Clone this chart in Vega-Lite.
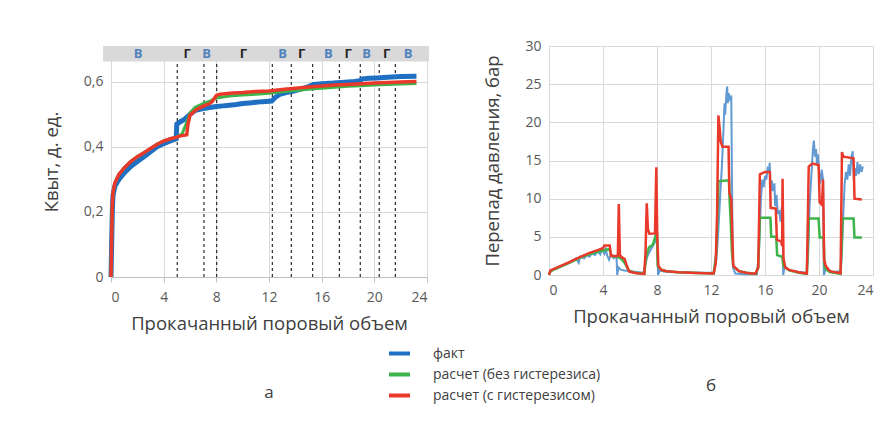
{
  "$schema": "https://vega.github.io/schema/vega-lite/v6.json",
  "background": "white",
  "padding": {"left": 42, "top": 39, "right": 5, "bottom": 5},
  "config": {
    "font": "Open Sans",
    "view": {"stroke": null},
    "axis": {"gridColor": "#d9d9d9", "domain": false, "ticks": false, "labelColor": "#595959", "titleColor": "#404040", "labelFontSize": 14, "titleFontSize": 18.5, "titleFontWeight": "normal", "labelPadding": 8},
    "concat": {"spacing": 54},
    "legend": {"orient": "none", "legendX": 276, "legendY": 295, "title": null, "symbolType": "stroke", "symbolStrokeWidth": 4, "symbolSize": 441, "symbolOpacity": 1, "labelFontSize": 14, "labelColor": "#404040", "labelLimit": 0, "rowPadding": 0, "labelOffset": 21}
  },
  "datasets": {
    "kv": [
      {"x":0,"y":0,"s":"факт"},{"x":0.05,"y":0.1,"s":"факт"},{"x":0.1,"y":0.2,"s":"факт"},{"x":0.15,"y":0.25,"s":"факт"},{"x":0.3,"y":0.28,"s":"факт"},{"x":0.6,"y":0.3,"s":"факт"},{"x":1.0,"y":0.32,"s":"факт"},{"x":1.5,"y":0.34,"s":"факт"},{"x":2.0,"y":0.355,"s":"факт"},{"x":2.5,"y":0.37,"s":"факт"},{"x":3.0,"y":0.385,"s":"факт"},{"x":3.5,"y":0.4,"s":"факт"},{"x":4.0,"y":0.41,"s":"факт"},{"x":4.5,"y":0.418,"s":"факт"},{"x":4.95,"y":0.425,"s":"факт"},{"x":5.0,"y":0.47,"s":"факт"},{"x":5.3,"y":0.478,"s":"факт"},{"x":5.6,"y":0.485,"s":"факт"},{"x":6.0,"y":0.5,"s":"факт"},{"x":6.4,"y":0.512,"s":"факт"},{"x":7.0,"y":0.518,"s":"факт"},{"x":7.5,"y":0.521,"s":"факт"},{"x":8.0,"y":0.524,"s":"факт"},{"x":8.5,"y":0.526,"s":"факт"},{"x":9.0,"y":0.528,"s":"факт"},{"x":9.5,"y":0.53,"s":"факт"},{"x":10.0,"y":0.533,"s":"факт"},{"x":10.5,"y":0.535,"s":"факт"},{"x":11.0,"y":0.537,"s":"факт"},{"x":11.5,"y":0.539,"s":"факт"},{"x":12.2,"y":0.541,"s":"факт"},{"x":12.5,"y":0.553,"s":"факт"},{"x":12.8,"y":0.561,"s":"факт"},{"x":13.3,"y":0.567,"s":"факт"},{"x":13.8,"y":0.571,"s":"факт"},{"x":14.5,"y":0.578,"s":"факт"},{"x":15.0,"y":0.585,"s":"факт"},{"x":15.4,"y":0.592,"s":"факт"},{"x":16.0,"y":0.594,"s":"факт"},{"x":16.9,"y":0.596,"s":"факт"},{"x":17.5,"y":0.598,"s":"факт"},{"x":18.5,"y":0.601,"s":"факт"},{"x":18.9,"y":0.603,"s":"факт"},{"x":19.1,"y":0.609,"s":"факт"},{"x":19.6,"y":0.611,"s":"факт"},{"x":20.2,"y":0.612,"s":"факт"},{"x":21.0,"y":0.614,"s":"факт"},{"x":22.0,"y":0.616,"s":"факт"},{"x":23.2,"y":0.617,"s":"факт"},
      {"x":0,"y":0,"s":"расчет (без гистерезиса)"},{"x":0.05,"y":0.12,"s":"расчет (без гистерезиса)"},{"x":0.1,"y":0.22,"s":"расчет (без гистерезиса)"},{"x":0.15,"y":0.26,"s":"расчет (без гистерезиса)"},{"x":0.3,"y":0.29,"s":"расчет (без гистерезиса)"},{"x":0.6,"y":0.315,"s":"расчет (без гистерезиса)"},{"x":1.0,"y":0.335,"s":"расчет (без гистерезиса)"},{"x":1.5,"y":0.355,"s":"расчет (без гистерезиса)"},{"x":2.0,"y":0.37,"s":"расчет (без гистерезиса)"},{"x":2.5,"y":0.382,"s":"расчет (без гистерезиса)"},{"x":3.0,"y":0.395,"s":"расчет (без гистерезиса)"},{"x":3.5,"y":0.408,"s":"расчет (без гистерезиса)"},{"x":4.0,"y":0.418,"s":"расчет (без гистерезиса)"},{"x":4.5,"y":0.425,"s":"расчет (без гистерезиса)"},{"x":5.0,"y":0.43,"s":"расчет (без гистерезиса)"},{"x":5.4,"y":0.44,"s":"расчет (без гистерезиса)"},{"x":5.7,"y":0.47,"s":"расчет (без гистерезиса)"},{"x":6.0,"y":0.505,"s":"расчет (без гистерезиса)"},{"x":6.4,"y":0.522,"s":"расчет (без гистерезиса)"},{"x":7.0,"y":0.533,"s":"расчет (без гистерезиса)"},{"x":7.6,"y":0.542,"s":"расчет (без гистерезиса)"},{"x":8.0,"y":0.55,"s":"расчет (без гистерезиса)"},{"x":8.5,"y":0.553,"s":"расчет (без гистерезиса)"},{"x":9.0,"y":0.556,"s":"расчет (без гистерезиса)"},{"x":10.0,"y":0.559,"s":"расчет (без гистерезиса)"},{"x":11.0,"y":0.562,"s":"расчет (без гистерезиса)"},{"x":12.0,"y":0.565,"s":"расчет (без гистерезиса)"},{"x":13.0,"y":0.569,"s":"расчет (без гистерезиса)"},{"x":14.0,"y":0.573,"s":"расчет (без гистерезиса)"},{"x":15.0,"y":0.577,"s":"расчет (без гистерезиса)"},{"x":16.0,"y":0.58,"s":"расчет (без гистерезиса)"},{"x":17.0,"y":0.583,"s":"расчет (без гистерезиса)"},{"x":18.0,"y":0.586,"s":"расчет (без гистерезиса)"},{"x":19.0,"y":0.588,"s":"расчет (без гистерезиса)"},{"x":20.0,"y":0.59,"s":"расчет (без гистерезиса)"},{"x":21.0,"y":0.592,"s":"расчет (без гистерезиса)"},{"x":22.0,"y":0.593,"s":"расчет (без гистерезиса)"},{"x":23.2,"y":0.595,"s":"расчет (без гистерезиса)"},
      {"x":0,"y":0,"s":"расчет (с гистерезисом)"},{"x":0.05,"y":0.12,"s":"расчет (с гистерезисом)"},{"x":0.1,"y":0.22,"s":"расчет (с гистерезисом)"},{"x":0.15,"y":0.26,"s":"расчет (с гистерезисом)"},{"x":0.3,"y":0.29,"s":"расчет (с гистерезисом)"},{"x":0.6,"y":0.315,"s":"расчет (с гистерезисом)"},{"x":1.0,"y":0.335,"s":"расчет (с гистерезисом)"},{"x":1.5,"y":0.355,"s":"расчет (с гистерезисом)"},{"x":2.0,"y":0.37,"s":"расчет (с гистерезисом)"},{"x":2.5,"y":0.382,"s":"расчет (с гистерезисом)"},{"x":3.0,"y":0.395,"s":"расчет (с гистерезисом)"},{"x":3.5,"y":0.408,"s":"расчет (с гистерезисом)"},{"x":4.0,"y":0.418,"s":"расчет (с гистерезисом)"},{"x":4.5,"y":0.425,"s":"расчет (с гистерезисом)"},{"x":5.0,"y":0.43,"s":"расчет (с гистерезисом)"},{"x":5.2,"y":0.433,"s":"расчет (с гистерезисом)"},{"x":5.75,"y":0.437,"s":"расчет (с гистерезисом)"},{"x":5.85,"y":0.47,"s":"расчет (с гистерезисом)"},{"x":6.0,"y":0.497,"s":"расчет (с гистерезисом)"},{"x":6.5,"y":0.515,"s":"расчет (с гистерезисом)"},{"x":7.0,"y":0.525,"s":"расчет (с гистерезисом)"},{"x":7.5,"y":0.533,"s":"расчет (с гистерезисом)"},{"x":7.7,"y":0.54,"s":"расчет (с гистерезисом)"},{"x":8.0,"y":0.558,"s":"расчет (с гистерезисом)"},{"x":8.3,"y":0.562,"s":"расчет (с гистерезисом)"},{"x":9.0,"y":0.565,"s":"расчет (с гистерезисом)"},{"x":10.0,"y":0.567,"s":"расчет (с гистерезисом)"},{"x":11.0,"y":0.57,"s":"расчет (с гистерезисом)"},{"x":12.0,"y":0.572,"s":"расчет (с гистерезисом)"},{"x":13.0,"y":0.576,"s":"расчет (с гистерезисом)"},{"x":14.0,"y":0.58,"s":"расчет (с гистерезисом)"},{"x":15.0,"y":0.584,"s":"расчет (с гистерезисом)"},{"x":16.0,"y":0.587,"s":"расчет (с гистерезисом)"},{"x":17.0,"y":0.59,"s":"расчет (с гистерезисом)"},{"x":18.0,"y":0.592,"s":"расчет (с гистерезисом)"},{"x":19.0,"y":0.594,"s":"расчет (с гистерезисом)"},{"x":20.0,"y":0.596,"s":"расчет (с гистерезисом)"},{"x":21.0,"y":0.598,"s":"расчет (с гистерезисом)"},{"x":22.0,"y":0.599,"s":"расчет (с гистерезисом)"},{"x":23.2,"y":0.601,"s":"расчет (с гистерезисом)"}
    ],
    "dp": [
      {"x":0,"y":0.2,"s":"факт"},{"x":0.3,"y":0.7,"s":"факт"},{"x":0.6,"y":1.0,"s":"факт"},{"x":0.9,"y":1.2,"s":"факт"},{"x":1.2,"y":1.4,"s":"факт"},{"x":1.5,"y":1.6,"s":"факт"},{"x":1.8,"y":1.9,"s":"факт"},{"x":2.0,"y":2.2,"s":"факт"},{"x":2.2,"y":1.6,"s":"факт"},{"x":2.3,"y":2.4,"s":"факт"},{"x":2.6,"y":2.2,"s":"факт"},{"x":2.8,"y":2.6,"s":"факт"},{"x":3.0,"y":2.4,"s":"факт"},{"x":3.2,"y":2.9,"s":"факт"},{"x":3.4,"y":2.6,"s":"факт"},{"x":3.6,"y":3.1,"s":"факт"},{"x":3.8,"y":2.7,"s":"факт"},{"x":3.9,"y":3.4,"s":"факт"},{"x":4.1,"y":2.8,"s":"факт"},{"x":4.2,"y":3.6,"s":"факт"},{"x":4.3,"y":2.6,"s":"факт"},{"x":4.45,"y":2.0,"s":"факт"},{"x":4.6,"y":2.8,"s":"факт"},{"x":4.8,"y":2.2,"s":"факт"},{"x":5.0,"y":2.5,"s":"факт"},{"x":5.05,"y":0,"s":"факт"},{"x":5.15,"y":1.0,"s":"факт"},{"x":5.3,"y":0.7,"s":"факт"},{"x":5.6,"y":0.6,"s":"факт"},{"x":6.0,"y":0.5,"s":"факт"},{"x":6.5,"y":0.4,"s":"факт"},{"x":7.0,"y":0.3,"s":"факт"},{"x":7.15,"y":1.5,"s":"факт"},{"x":7.3,"y":2.5,"s":"факт"},{"x":7.5,"y":3.2,"s":"факт"},{"x":7.7,"y":3.8,"s":"факт"},{"x":7.9,"y":4.5,"s":"факт"},{"x":8.0,"y":5.2,"s":"факт"},{"x":8.08,"y":0,"s":"факт"},{"x":8.2,"y":0.6,"s":"факт"},{"x":8.5,"y":0.45,"s":"факт"},{"x":9.5,"y":0.35,"s":"факт"},{"x":11.0,"y":0.3,"s":"факт"},{"x":12.2,"y":0.3,"s":"факт"},{"x":12.4,"y":2,"s":"факт"},{"x":12.55,"y":6,"s":"факт"},{"x":12.7,"y":11,"s":"факт"},{"x":12.8,"y":14,"s":"факт"},{"x":12.9,"y":18,"s":"факт"},{"x":13.0,"y":22.5,"s":"факт"},{"x":13.05,"y":21,"s":"факт"},{"x":13.15,"y":24,"s":"факт"},{"x":13.2,"y":24.7,"s":"факт"},{"x":13.25,"y":22.5,"s":"факт"},{"x":13.3,"y":23.8,"s":"факт"},{"x":13.4,"y":23.1,"s":"факт"},{"x":13.5,"y":23.5,"s":"факт"},{"x":13.55,"y":13,"s":"факт"},{"x":13.62,"y":1.0,"s":"факт"},{"x":13.8,"y":0.2,"s":"факт"},{"x":14.5,"y":0.1,"s":"факт"},{"x":15.4,"y":0.1,"s":"факт"},{"x":15.55,"y":3,"s":"факт"},{"x":15.7,"y":10,"s":"факт"},{"x":15.8,"y":12.5,"s":"факт"},{"x":15.9,"y":11.5,"s":"факт"},{"x":16.0,"y":13,"s":"факт"},{"x":16.1,"y":12.5,"s":"факт"},{"x":16.2,"y":14,"s":"факт"},{"x":16.3,"y":13.8,"s":"факт"},{"x":16.35,"y":14.7,"s":"факт"},{"x":16.42,"y":11,"s":"факт"},{"x":16.5,"y":12.4,"s":"факт"},{"x":16.6,"y":11,"s":"факт"},{"x":16.7,"y":12,"s":"факт"},{"x":16.75,"y":9,"s":"факт"},{"x":16.85,"y":10.5,"s":"факт"},{"x":16.95,"y":8,"s":"факт"},{"x":17.05,"y":8.5,"s":"факт"},{"x":17.15,"y":7,"s":"факт"},{"x":17.25,"y":9,"s":"факт"},{"x":17.3,"y":7.5,"s":"факт"},{"x":17.35,"y":0,"s":"факт"},{"x":17.45,"y":1.2,"s":"факт"},{"x":17.8,"y":0.6,"s":"факт"},{"x":18.5,"y":0.4,"s":"факт"},{"x":19.1,"y":0.3,"s":"факт"},{"x":19.2,"y":3,"s":"факт"},{"x":19.3,"y":9,"s":"факт"},{"x":19.4,"y":12,"s":"факт"},{"x":19.5,"y":15,"s":"факт"},{"x":19.55,"y":16.5,"s":"факт"},{"x":19.62,"y":17.6,"s":"факт"},{"x":19.7,"y":15.5,"s":"факт"},{"x":19.78,"y":16.5,"s":"факт"},{"x":19.85,"y":14.5,"s":"факт"},{"x":19.92,"y":15.8,"s":"факт"},{"x":20.0,"y":13.5,"s":"факт"},{"x":20.1,"y":12,"s":"факт"},{"x":20.2,"y":13.8,"s":"факт"},{"x":20.3,"y":12.5,"s":"факт"},{"x":20.36,"y":0,"s":"факт"},{"x":20.5,"y":0.8,"s":"факт"},{"x":21.0,"y":0.4,"s":"факт"},{"x":21.6,"y":0.5,"s":"факт"},{"x":21.7,"y":3,"s":"факт"},{"x":21.8,"y":8,"s":"факт"},{"x":21.9,"y":12,"s":"факт"},{"x":22.0,"y":13.5,"s":"факт"},{"x":22.1,"y":12.5,"s":"факт"},{"x":22.2,"y":14.5,"s":"факт"},{"x":22.3,"y":13,"s":"факт"},{"x":22.4,"y":15.5,"s":"факт"},{"x":22.5,"y":16.2,"s":"факт"},{"x":22.58,"y":12.5,"s":"факт"},{"x":22.65,"y":14,"s":"факт"},{"x":22.75,"y":13,"s":"факт"},{"x":22.85,"y":14.8,"s":"факт"},{"x":22.95,"y":13.2,"s":"факт"},{"x":23.05,"y":14.5,"s":"факт"},{"x":23.15,"y":13.5,"s":"факт"},{"x":23.25,"y":14.2,"s":"факт"},
      {"x":0,"y":0,"s":"расчет (без гистерезиса)"},{"x":0.1,"y":0.5,"s":"расчет (без гистерезиса)"},{"x":0.5,"y":0.8,"s":"расчет (без гистерезиса)"},{"x":1.0,"y":1.2,"s":"расчет (без гистерезиса)"},{"x":1.5,"y":1.6,"s":"расчет (без гистерезиса)"},{"x":2.0,"y":2.0,"s":"расчет (без гистерезиса)"},{"x":2.5,"y":2.4,"s":"расчет (без гистерезиса)"},{"x":3.0,"y":2.7,"s":"расчет (без гистерезиса)"},{"x":3.5,"y":3.0,"s":"расчет (без гистерезиса)"},{"x":4.0,"y":3.2,"s":"расчет (без гистерезиса)"},{"x":4.5,"y":3.4,"s":"расчет (без гистерезиса)"},{"x":4.6,"y":2.5,"s":"расчет (без гистерезиса)"},{"x":5.0,"y":2.4,"s":"расчет (без гистерезиса)"},{"x":5.3,"y":2.2,"s":"расчет (без гистерезиса)"},{"x":5.6,"y":1.6,"s":"расчет (без гистерезиса)"},{"x":5.9,"y":0.6,"s":"расчет (без гистерезиса)"},{"x":6.3,"y":0.3,"s":"расчет (без гистерезиса)"},{"x":7.06,"y":0.15,"s":"расчет (без гистерезиса)"},{"x":7.2,"y":2.5,"s":"расчет (без гистерезиса)"},{"x":7.4,"y":3.6,"s":"расчет (без гистерезиса)"},{"x":7.7,"y":4.0,"s":"расчет (без гистерезиса)"},{"x":7.9,"y":5.2,"s":"расчет (без гистерезиса)"},{"x":8.0,"y":5.3,"s":"расчет (без гистерезиса)"},{"x":8.05,"y":1.2,"s":"расчет (без гистерезиса)"},{"x":8.3,"y":0.7,"s":"расчет (без гистерезиса)"},{"x":8.7,"y":0.5,"s":"расчет (без гистерезиса)"},{"x":9.6,"y":0.35,"s":"расчет (без гистерезиса)"},{"x":11.0,"y":0.25,"s":"расчет (без гистерезиса)"},{"x":12.2,"y":0.2,"s":"расчет (без гистерезиса)"},{"x":12.4,"y":3,"s":"расчет (без гистерезиса)"},{"x":12.55,"y":12.3,"s":"расчет (без гистерезиса)"},{"x":13.33,"y":12.4,"s":"расчет (без гистерезиса)"},{"x":13.38,"y":9.8,"s":"расчет (без гистерезиса)"},{"x":13.45,"y":7.4,"s":"расчет (без гистерезиса)"},{"x":13.55,"y":3,"s":"расчет (без гистерезиса)"},{"x":13.65,"y":1.2,"s":"расчет (без гистерезиса)"},{"x":14.07,"y":0.5,"s":"расчет (без гистерезиса)"},{"x":14.6,"y":0.3,"s":"расчет (без гистерезиса)"},{"x":15.3,"y":0.15,"s":"расчет (без гистерезиса)"},{"x":15.5,"y":1,"s":"расчет (без гистерезиса)"},{"x":15.62,"y":7.5,"s":"расчет (без гистерезиса)"},{"x":16.4,"y":7.5,"s":"расчет (без гистерезиса)"},{"x":16.46,"y":5.0,"s":"расчет (без гистерезиса)"},{"x":16.83,"y":5.0,"s":"расчет (без гистерезиса)"},{"x":16.9,"y":2.6,"s":"расчет (без гистерезиса)"},{"x":17.27,"y":2.4,"s":"расчет (без гистерезиса)"},{"x":17.37,"y":1.1,"s":"расчет (без гистерезиса)"},{"x":17.8,"y":0.6,"s":"расчет (без гистерезиса)"},{"x":18.5,"y":0.3,"s":"расчет (без гистерезиса)"},{"x":19.1,"y":0.15,"s":"расчет (без гистерезиса)"},{"x":19.24,"y":7.4,"s":"расчет (без гистерезиса)"},{"x":19.97,"y":7.4,"s":"расчет (без гистерезиса)"},{"x":20.05,"y":4.9,"s":"расчет (без гистерезиса)"},{"x":20.34,"y":4.9,"s":"расчет (без гистерезиса)"},{"x":20.42,"y":0.9,"s":"расчет (без гистерезиса)"},{"x":20.8,"y":0.4,"s":"расчет (без гистерезиса)"},{"x":21.6,"y":0.15,"s":"расчет (без гистерезиса)"},{"x":21.75,"y":7.4,"s":"расчет (без гистерезиса)"},{"x":22.56,"y":7.4,"s":"расчет (без гистерезиса)"},{"x":22.63,"y":4.9,"s":"расчет (без гистерезиса)"},{"x":23.17,"y":4.9,"s":"расчет (без гистерезиса)"},
      {"x":0,"y":0,"s":"расчет (с гистерезисом)"},{"x":0.1,"y":0.6,"s":"расчет (с гистерезисом)"},{"x":0.5,"y":0.9,"s":"расчет (с гистерезисом)"},{"x":1.0,"y":1.3,"s":"расчет (с гистерезисом)"},{"x":1.5,"y":1.7,"s":"расчет (с гистерезисом)"},{"x":2.0,"y":2.1,"s":"расчет (с гистерезисом)"},{"x":2.5,"y":2.5,"s":"расчет (с гистерезисом)"},{"x":3.0,"y":2.9,"s":"расчет (с гистерезисом)"},{"x":3.5,"y":3.2,"s":"расчет (с гистерезисом)"},{"x":4.0,"y":3.5,"s":"расчет (с гистерезисом)"},{"x":4.1,"y":3.85,"s":"расчет (с гистерезисом)"},{"x":4.5,"y":3.85,"s":"расчет (с гистерезисом)"},{"x":4.6,"y":2.5,"s":"расчет (с гистерезисом)"},{"x":5.1,"y":2.5,"s":"расчет (с гистерезисом)"},{"x":5.17,"y":9.3,"s":"расчет (с гистерезисом)"},{"x":5.25,"y":2.6,"s":"расчет (с гистерезисом)"},{"x":5.4,"y":2.3,"s":"расчет (с гистерезисом)"},{"x":5.6,"y":2.1,"s":"расчет (с гистерезисом)"},{"x":5.8,"y":1.0,"s":"расчет (с гистерезисом)"},{"x":5.95,"y":0.45,"s":"расчет (с гистерезисом)"},{"x":6.3,"y":0.3,"s":"расчет (с гистерезисом)"},{"x":6.7,"y":0.2,"s":"расчет (с гистерезисом)"},{"x":7.06,"y":0.15,"s":"расчет (с гистерезисом)"},{"x":7.15,"y":3,"s":"расчет (с гистерезисом)"},{"x":7.24,"y":9.4,"s":"расчет (с гистерезисом)"},{"x":7.33,"y":6.0,"s":"расчет (с гистерезисом)"},{"x":7.43,"y":5.4,"s":"расчет (с гистерезисом)"},{"x":7.85,"y":5.45,"s":"расчет (с гистерезисом)"},{"x":7.95,"y":14.1,"s":"расчет (с гистерезисом)"},{"x":8.02,"y":5.0,"s":"расчет (с гистерезисом)"},{"x":8.1,"y":1.2,"s":"расчет (с гистерезисом)"},{"x":8.3,"y":0.7,"s":"расчет (с гистерезисом)"},{"x":8.7,"y":0.5,"s":"расчет (с гистерезисом)"},{"x":9.6,"y":0.35,"s":"расчет (с гистерезисом)"},{"x":11.0,"y":0.25,"s":"расчет (с гистерезисом)"},{"x":12.2,"y":0.2,"s":"расчет (с гистерезисом)"},{"x":12.35,"y":1.5,"s":"расчет (с гистерезисом)"},{"x":12.45,"y":8,"s":"расчет (с гистерезисом)"},{"x":12.55,"y":20.9,"s":"расчет (с гистерезисом)"},{"x":12.65,"y":19,"s":"расчет (с гистерезисом)"},{"x":12.72,"y":17.5,"s":"расчет (с гистерезисом)"},{"x":12.85,"y":16.8,"s":"расчет (с гистерезисом)"},{"x":13.3,"y":16.8,"s":"расчет (с гистерезисом)"},{"x":13.36,"y":10.8,"s":"расчет (с гистерезисом)"},{"x":13.5,"y":9.9,"s":"расчет (с гистерезисом)"},{"x":13.58,"y":5,"s":"расчет (с гистерезисом)"},{"x":13.65,"y":1.2,"s":"расчет (с гистерезисом)"},{"x":14.07,"y":0.5,"s":"расчет (с гистерезисом)"},{"x":14.6,"y":0.3,"s":"расчет (с гистерезисом)"},{"x":15.05,"y":0.2,"s":"расчет (с гистерезисом)"},{"x":15.3,"y":0.2,"s":"расчет (с гистерезисом)"},{"x":15.5,"y":1,"s":"расчет (с гистерезисом)"},{"x":15.62,"y":13.2,"s":"расчет (с гистерезисом)"},{"x":16.0,"y":13.5,"s":"расчет (с гистерезисом)"},{"x":16.36,"y":13.5,"s":"расчет (с гистерезисом)"},{"x":16.42,"y":8.8,"s":"расчет (с гистерезисом)"},{"x":16.8,"y":8.7,"s":"расчет (с гистерезисом)"},{"x":16.88,"y":4.6,"s":"расчет (с гистерезисом)"},{"x":17.2,"y":4.4,"s":"расчет (с гистерезисом)"},{"x":17.27,"y":3.8,"s":"расчет (с гистерезисом)"},{"x":17.3,"y":12.6,"s":"расчет (с гистерезисом)"},{"x":17.37,"y":2.2,"s":"расчет (с гистерезисом)"},{"x":17.5,"y":1.0,"s":"расчет (с гистерезисом)"},{"x":17.8,"y":0.66,"s":"расчет (с гистерезисом)"},{"x":18.5,"y":0.35,"s":"расчет (с гистерезисом)"},{"x":19.1,"y":0.2,"s":"расчет (с гистерезисом)"},{"x":19.18,"y":8,"s":"расчет (с гистерезисом)"},{"x":19.24,"y":14.2,"s":"расчет (с гистерезисом)"},{"x":19.5,"y":14.6,"s":"расчет (с гистерезисом)"},{"x":19.97,"y":14.4,"s":"расчет (с гистерезисом)"},{"x":20.05,"y":9.5,"s":"расчет (с гистерезисом)"},{"x":20.22,"y":9.2,"s":"расчет (с гистерезисом)"},{"x":20.3,"y":12.5,"s":"расчет (с гистерезисом)"},{"x":20.38,"y":2,"s":"расчет (с гистерезисом)"},{"x":20.5,"y":1.2,"s":"расчет (с гистерезисом)"},{"x":20.8,"y":0.5,"s":"расчет (с гистерезисом)"},{"x":21.6,"y":0.22,"s":"расчет (с гистерезисом)"},{"x":21.7,"y":16.1,"s":"расчет (с гистерезисом)"},{"x":21.8,"y":15.5,"s":"расчет (с гистерезисом)"},{"x":22.56,"y":15.3,"s":"расчет (с гистерезисом)"},{"x":22.63,"y":10.0,"s":"расчет (с гистерезисом)"},{"x":23.17,"y":9.9,"s":"расчет (с гистерезисом)"}
    ],
    "dashes": [{"x":5.03,"y":0,"y2":0.662},{"x":7.06,"y":0,"y2":0.662},{"x":8.03,"y":0,"y2":0.662},{"x":12.25,"y":0,"y2":0.662},{"x":13.69,"y":0,"y2":0.662},{"x":15.32,"y":0,"y2":0.662},{"x":17.34,"y":0,"y2":0.662},{"x":18.93,"y":0,"y2":0.662},{"x":20.37,"y":0,"y2":0.662},{"x":21.59,"y":0,"y2":0.662}],
    "band": [{"x":-0.6,"x2":24.15,"y":0.662,"y2":0.71}],
    "phase": [{"x":2.06,"y":0.686,"t":"В"},{"x":5.79,"y":0.686,"t":"Г"},{"x":7.26,"y":0.686,"t":"В"},{"x":10.05,"y":0.686,"t":"Г"},{"x":13.04,"y":0.686,"t":"В"},{"x":14.48,"y":0.686,"t":"Г"},{"x":16.5,"y":0.686,"t":"В"},{"x":18.02,"y":0.686,"t":"Г"},{"x":19.42,"y":0.686,"t":"В"},{"x":20.93,"y":0.686,"t":"Г"},{"x":22.57,"y":0.686,"t":"В"}]
  },
  "hconcat": [
    {
      "width": 316,
      "height": 231,
      "title": {"text": "а", "orient": "bottom", "offset": 52, "fontSize": 17, "fontWeight": "normal", "color": "#404040"},
      "encoding": {
        "x": {"field": "x", "type": "quantitative", "scale": {"domain": [0, 24]}, "axis": {"values": [0,4,8,12,16,20,24], "title": "Прокачанный поровый объем", "titlePadding": 10, "domain": true, "domainColor": "#bfbfbf", "ticks": true, "tickColor": "#bfbfbf", "tickSize": 5}},
        "y": {"field": "y", "type": "quantitative", "scale": {"domain": [0, 0.71], "nice": false}, "axis": {"values": [0,0.2,0.4,0.6], "title": "Квыт, д. ед.", "titlePadding": 22, "labelExpr": "datum.value == 0 ? '0' : replace(format(datum.value, '.1f'), '.', ',')"}}
      },
      "layer": [
        {"data": {"name": "band"}, "mark": {"type": "rect", "color": "#d9d9d9"}, "encoding": {"x2": {"field": "x2"}, "y2": {"field": "y2"}}},
        {"data": {"name": "phase"}, "transform": [{"filter": {"field": "t", "equal": "В"}}], "mark": {"type": "text", "color": "#4f81bd", "fontSize": 13, "fontWeight": "bold"}, "encoding": {"text": {"field": "t"}}},
        {"data": {"name": "phase"}, "transform": [{"filter": {"field": "t", "equal": "Г"}}], "mark": {"type": "text", "color": "#262626", "fontSize": 13, "fontWeight": "bold"}, "encoding": {"text": {"field": "t"}}},
        {"data": {"name": "dashes"}, "mark": {"type": "rule", "color": "#000000", "strokeDash": [3, 3], "strokeWidth": 1}, "encoding": {"y2": {"field": "y2"}}},
        {"data": {"name": "kv"}, "transform": [{"filter": {"field": "s", "equal": "факт"}}], "mark": {"type": "line", "strokeWidth": 5}, "encoding": {"color": {"field": "s", "type": "nominal", "scale": {"domain": ["факт", "расчет (без гистерезиса)", "расчет (с гистерезисом)"], "range": ["#1f6fc2", "#3cb44a", "#e8392a"]}}}},
        {"data": {"name": "kv"}, "transform": [{"filter": {"field": "s", "equal": "расчет (без гистерезиса)"}}], "mark": {"type": "line", "strokeWidth": 3}, "encoding": {"color": {"field": "s", "type": "nominal", "scale": {"domain": ["факт", "расчет (без гистерезиса)", "расчет (с гистерезисом)"], "range": ["#1f6fc2", "#3cb44a", "#e8392a"]}}}},
        {"data": {"name": "kv"}, "transform": [{"filter": {"field": "s", "equal": "расчет (с гистерезисом)"}}], "mark": {"type": "line", "strokeWidth": 3.5}, "encoding": {"color": {"field": "s", "type": "nominal", "scale": {"domain": ["факт", "расчет (без гистерезиса)", "расчет (с гистерезисом)"], "range": ["#1f6fc2", "#3cb44a", "#e8392a"]}}}}
      ]
    },
    {
      "width": 324,
      "height": 229,
      "title": {"text": "б", "orient": "bottom", "offset": 52, "fontSize": 17, "fontWeight": "normal", "color": "#404040"},
      "data": {"name": "dp"},
      "encoding": {
        "x": {"field": "x", "type": "quantitative", "scale": {"domain": [0, 24]}, "axis": {"values": [0,4,8,12,16,20,24], "title": "Прокачанный поровый объем", "titlePadding": 10}},
        "y": {"field": "y", "type": "quantitative", "scale": {"domain": [0, 30]}, "axis": {"values": [0,5,10,15,20,25,30], "title": "Перепад давления, бар", "titlePadding": 22}},
        "color": {"field": "s", "type": "nominal", "scale": {"domain": ["факт", "расчет (без гистерезиса)", "расчет (с гистерезисом)"], "range": ["#1f6fc2", "#3cb44a", "#e8392a"]}}
      },
      "layer": [
        {"transform": [{"filter": {"field": "s", "equal": "факт"}}], "mark": {"type": "line", "strokeWidth": 2, "opacity": 0.7}},
        {"transform": [{"filter": {"field": "s", "equal": "расчет (без гистерезиса)"}}], "mark": {"type": "line", "strokeWidth": 2.5}},
        {"transform": [{"filter": {"field": "s", "equal": "расчет (с гистерезисом)"}}], "mark": {"type": "line", "strokeWidth": 2.5}}
      ]
    }
  ],
  "resolve": {"scale": {"color": "shared"}, "legend": {"color": "shared"}}
}
